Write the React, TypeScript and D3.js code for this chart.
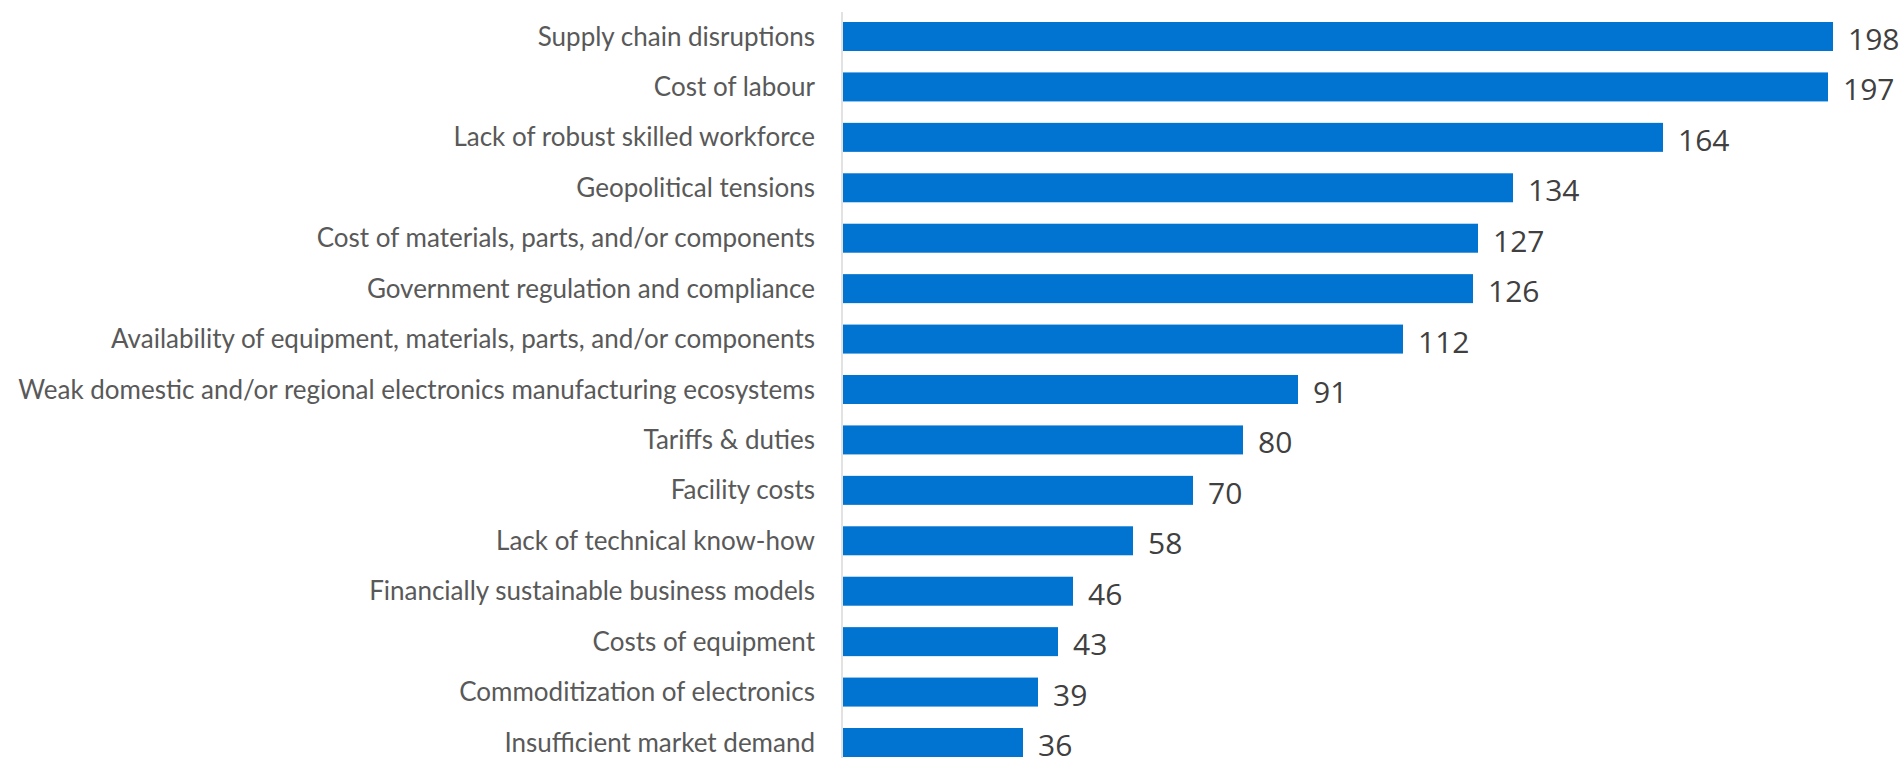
import React, { useRef, useEffect } from 'react';
import * as d3 from 'd3';

const categories = [
  'Supply chain disruptions',
  'Cost of labour',
  'Lack of robust skilled workforce',
  'Geopolitical tensions',
  'Cost of materials, parts, and/or components',
  'Government regulation and compliance',
  'Availability of equipment, materials, parts, and/or components',
  'Weak domestic and/or regional electronics manufacturing ecosystems',
  'Tariffs & duties',
  'Facility costs',
  'Lack of technical know-how',
  'Financially sustainable business models',
  'Costs of equipment',
  'Commoditization of electronics',
  'Insufficient market demand',
];

const values = [198, 197, 164, 134, 127, 126, 112, 91, 80, 70, 58, 46, 43, 39, 36];

const width = 1901;
const height = 758;

const App: React.FC = () => {
  const svgRef = useRef<SVGSVGElement>(null);

  useEffect(() => {
    document.body.style.margin = '0';
    if (!svgRef.current) return;
    const svg = d3.select(svgRef.current);
    svg.selectAll('*').remove();

    const axisX = 843;
    const xScale = d3.scaleLinear().domain([0, 198]).range([axisX, 1833]);
    const yScale = d3.scaleBand()
      .domain(categories)
      .range([22, 757])
      .paddingInner(0.425)
      .paddingOuter(0);

    // bars
    svg.append('g')
      .selectAll('rect')
      .data(values)
      .enter()
      .append('rect')
      .attr('x', xScale(0))
      .attr('y', (_, i) => yScale(categories[i]) || 0)
      .attr('width', d => xScale(d) - xScale(0))
      .attr('height', yScale.bandwidth())
      .attr('fill', '#0074d0');

    // axis line
    svg.append('line')
      .attr('x1', axisX - 1)
      .attr('x2', axisX - 1)
      .attr('y1', 12)
      .attr('y2', height)
      .attr('stroke', '#d9d9d9')
      .attr('stroke-width', 1.5);

    // category labels
    svg.append('g')
      .selectAll('text')
      .data(categories)
      .enter()
      .append('text')
      .attr('x', 815)
      .attr('y', d => (yScale(d) || 0) + yScale.bandwidth() / 2)
      .attr('dy', '0.35em')
      .attr('text-anchor', 'end')
      .style('font-family', 'Lato, "Open Sans", sans-serif')
      .style('font-size', '26px')
      .style('fill', '#595959')
      .text(d => d);

    // value labels
    svg.append('g')
      .selectAll('text')
      .data(values)
      .enter()
      .append('text')
      .attr('x', d => xScale(d) + 15)
      .attr('y', (_, i) => (yScale(categories[i]) || 0) + yScale.bandwidth() / 2 + 3)
      .attr('dy', '0.35em')
      .style('font-family', '"Open Sans", Roboto, sans-serif')
      .style('font-size', '30px')
      .style('fill', '#404040')
      .text(d => d);
  }, []);

  return <svg ref={svgRef} width={width} height={height} style={{ display: 'block' }} />;
};

export default App;
